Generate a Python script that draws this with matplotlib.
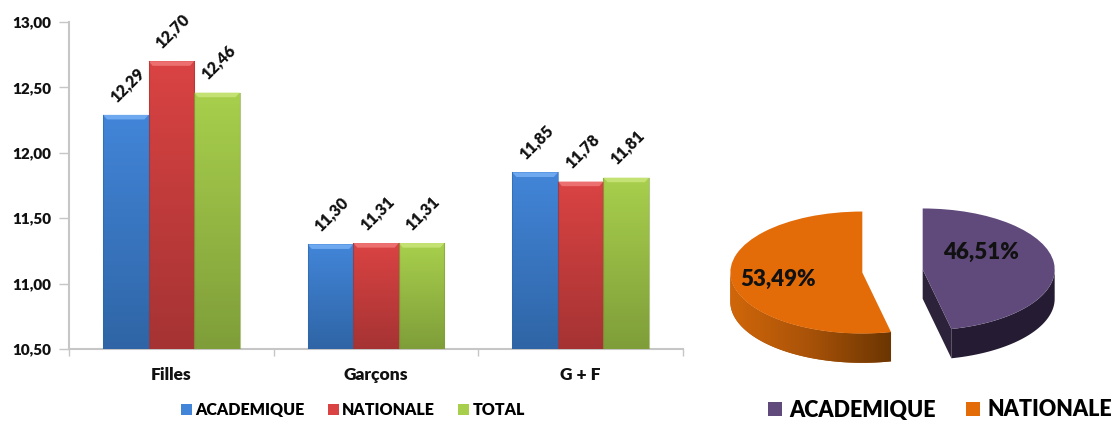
import matplotlib
matplotlib.use('Agg')
import matplotlib.pyplot as plt
import numpy as np
from matplotlib.colors import LinearSegmentedColormap
from matplotlib.patches import Polygon

plt.rcParams['font.family'] = ['Lato', 'DejaVu Sans']
plt.rcParams['font.weight'] = 800

categories = ['Filles', 'Garçons', 'G + F']
academique = [12.29, 11.30, 11.85]
nationale = [12.70, 11.31, 11.78]
total = [12.46, 11.31, 11.81]
bar_labels = [['12,29', '11,30', '11,85'],
              ['12,70', '11,31', '11,78'],
              ['12,46', '11,31', '11,81']]
series_names = ['ACADEMIQUE', 'NATIONALE', 'TOTAL']
y_ticks = [10.5, 11.0, 11.5, 12.0, 12.5, 13.0]
y_tick_labels = ['10,50', '11,00', '11,50', '12,00', '12,50', '13,00']
pie_names = ['ACADEMIQUE', 'NATIONALE']
pie_shares = [46.51, 53.49]
pie_labels = ['46,51%', '53,49%']

W, H = 1114, 421
GREY = '#c6c6c6'
# top colour, bottom colour, bevel colour
bar_colors = [('#4285d8', '#2f65a6', '#6ea8ee'),
              ('#da4343', '#a63333', '#ec7070'),
              ('#a8cf4c', '#7f9e3a', '#c4e273')]


def px_axes(left, top, right, bottom):
    return fig.add_axes([left / W, 1 - bottom / H, (right - left) / W, (bottom - top) / H])


fig = plt.figure(figsize=(W / 100, H / 100), dpi=100)

# ---- bars
ax = px_axes(69, 22, 683, 349)
base = y_ticks[0]
width = 0.2225
xpos = np.arange(len(categories)) + 0.5
all_bars = []
for i, vals in enumerate([academique, nationale, total]):
    bars = ax.bar(xpos + (i - 1) * width, np.array(vals) - base, width, bottom=base,
                  color=bar_colors[i][0], zorder=2)
    all_bars.append(bars)
    cmap = LinearSegmentedColormap.from_list('g', [bar_colors[i][0], bar_colors[i][1]])
    for b, txt in zip(bars, bar_labels[i]):
        x0, x1 = b.get_x(), b.get_x() + b.get_width()
        top = b.get_y() + b.get_height()
        im = ax.imshow(np.linspace(0, 1, 64).reshape(-1, 1), cmap=cmap, aspect='auto',
                       extent=(x0, x1, base, top), zorder=3)
        im.set_clip_path(b)
        # little bevel along the top and darker side edges
        dx, dy = 0.02, 0.035
        ax.add_patch(Polygon([(x0, top), (x1, top), (x1 - dx, top - dy), (x0 + dx, top - dy)],
                             fc=bar_colors[i][2], ec='none', zorder=4))
        ax.plot([x0, x0], [base, top], color=bar_colors[i][1], lw=0.8, alpha=0.6, zorder=5)
        ax.plot([x1, x1], [base, top], color=bar_colors[i][1], lw=0.8, alpha=0.6, zorder=5)
        ax.annotate(txt, (b.get_x() + b.get_width() / 2, top), xytext=(1, 7),
                    textcoords='offset points', rotation=45, ha='center', va='bottom',
                    fontsize=11.5, color='#111111')

ax.set_xlim(0, len(categories))
ax.set_ylim(base, y_ticks[-1])
ax.set_yticks(y_ticks)
ax.set_yticklabels(y_tick_labels, fontsize=11, color='#111111')
ax.set_xticks(np.arange(len(categories) + 1))
ax.set_xticklabels([])
ax.set_xticks(xpos, minor=True)
ax.set_xticklabels(categories, minor=True, fontsize=12.5, color='#111111')
ax.tick_params(axis='y', length=7, width=1, color=GREY, pad=6)
ax.tick_params(axis='x', which='major', length=5, width=1, color=GREY)
ax.tick_params(axis='x', which='minor', length=0, pad=13)
for s in ['top', 'right']:
    ax.spines[s].set_visible(False)
for s in ['left', 'bottom']:
    ax.spines[s].set_color(GREY)
    ax.spines[s].set_linewidth(1.5)

ax.legend(handles=[b[0] for b in all_bars], labels=series_names, loc='center', ncol=3,
          frameon=False, bbox_to_anchor=(353 / W, 1 - 410 / H), bbox_transform=fig.transFigure,
          fontsize=11.5, handlelength=0.7, handleheight=0.7, handletextpad=0.2,
          columnspacing=1.45, borderpad=0)

# ---- pie, squashed to look 3D
rx, ry = 132, 61
cx, cy = 892.5, 271
pax = px_axes(cx - 1.6 * rx, cy - 1.3 * ry, cx + 1.7 * rx, cy + 1.7 * ry)
pie_colors = ['#604a7b', '#e36c09']
start = 90 - pie_shares[0] / 100 * 360
wedges, _ = pax.pie(pie_shares, colors=pie_colors, explode=[0.23, 0.23], startangle=start,
                    counterclock=True, wedgeprops={'linewidth': 0})
for w in wedges:
    w.set_zorder(3)

depth = 0.48


def side_wall(w):
    # front part of the rim, pushed down by depth
    t1, t2 = w.theta1 % 360, w.theta2 % 360
    if t2 < t1:
        t2 += 360
    angles = []
    for off in [0, 360]:
        a, b = max(t1 + off - 360, 180), min(t2 + off - 360, 360)
        if a < b:
            angles.append(np.radians(np.linspace(a, b, 80)))
    t = np.concatenate(angles)
    x = w.center[0] + w.r * np.cos(t)
    y = w.center[1] + w.r * np.sin(t)
    return np.r_[x, x[::-1]], np.r_[y, y[::-1] - depth]


# purple rim and its cut face
x, y = side_wall(wedges[0])
pax.add_patch(Polygon(np.c_[x, y], fc='#251c33', ec='none', zorder=1))
w = wedges[0]
t = np.radians(w.theta1)
ex, ey = w.center[0] + w.r * np.cos(t), w.center[1] + w.r * np.sin(t)
pax.add_patch(Polygon([w.center, (ex, ey), (ex, ey - depth), (w.center[0], w.center[1] - depth)],
                      fc='#2c2239', ec='none', zorder=1))

# orange rim with a left to right shade
x, y = side_wall(wedges[1])
rim = Polygon(np.c_[x, y], fc='#a85208', ec='none', zorder=1)
pax.add_patch(rim)
cmap = LinearSegmentedColormap.from_list('o', ['#d0660a', '#a85208', '#6c3602'])
im = pax.imshow(np.linspace(0, 1, 64).reshape(1, -1), cmap=cmap, aspect='auto',
                extent=(x.min(), x.max(), y.min(), y.max()), zorder=2)
im.set_clip_path(rim)
pax.set_aspect('auto')
pax.set_xlim(-1.6, 1.7)
pax.set_ylim(-1.7, 1.3)
pax.axis('off')

pax.text(0.67, 0.30, pie_labels[0], ha='center', va='center', fontsize=16, color='#111111', zorder=6)
pax.text(-0.87, -0.14, pie_labels[1], ha='center', va='center', fontsize=16, color='#111111', zorder=6)

pax.legend(handles=list(wedges), labels=pie_names, loc='center', ncol=2, frameon=False,
           bbox_to_anchor=(940 / W, 1 - 410 / H), bbox_transform=fig.transFigure,
           fontsize=15.5, handlelength=0.65, handleheight=0.65, handletextpad=0.33,
           columnspacing=1.4, borderpad=0)

fig.savefig('out.png', dpi=100)
